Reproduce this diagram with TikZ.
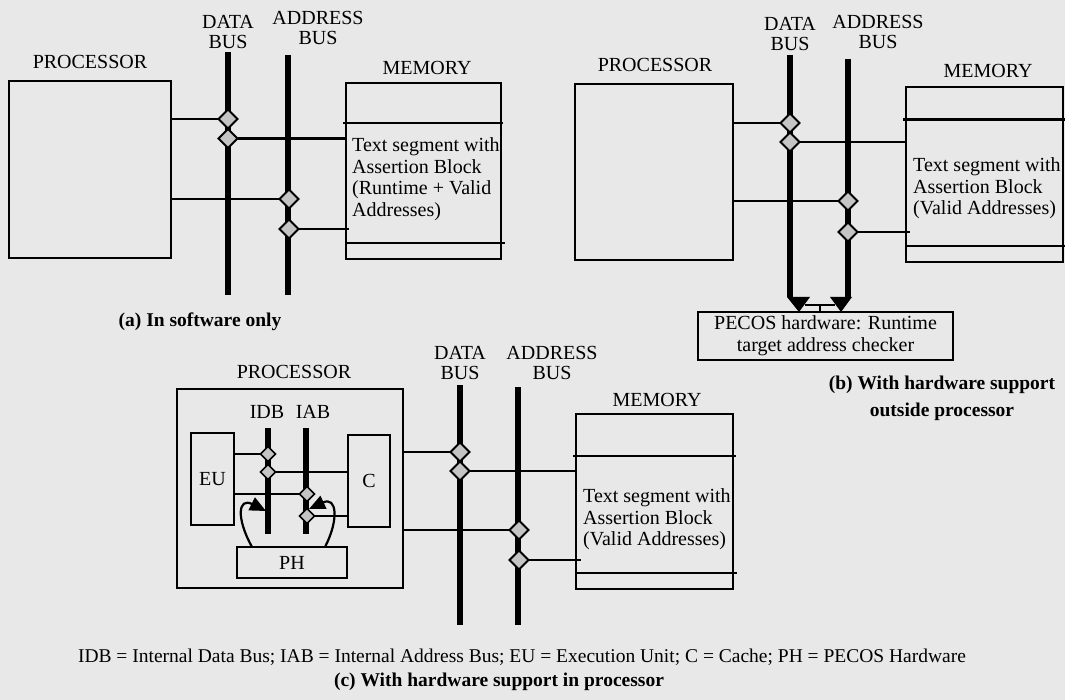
\documentclass[tikz,border=0pt]{standalone}
\usepackage{fontspec}
\setmainfont{Liberation Serif}
\usetikzlibrary{shapes.geometric,arrows.meta}
\pgfdeclarelayer{bg}
\pgfdeclarelayer{wires}
\pgfsetlayers{bg,wires,main}
\definecolor{paper}{RGB}{232,232,232}
\definecolor{diafill}{RGB}{196,196,196}
\begin{document}
\begin{tikzpicture}[x=1pt,y=-1pt,
  lbl/.style={font=\fontsize{20}{20}\selectfont, inner sep=0pt, align=center},
  txt/.style={font=\fontsize{20}{21.5}\selectfont, inner sep=0pt, align=left, anchor=west},
  capt/.style={font=\bfseries\fontsize{19.5}{27}\selectfont, inner sep=0pt, align=center},
  note/.style={font=\fontsize{19.5}{20}\selectfont, inner sep=0pt},
  box/.style={draw, line width=2.4pt, inner sep=0pt, outer sep=0pt},
  dia/.style={diamond, draw, line width=1.8pt, fill=diafill, minimum width=19pt, minimum height=19pt, inner sep=0pt, outer sep=0pt},
  sdia/.style={dia, minimum width=15pt, minimum height=15pt, line width=1.6pt},
  bus/.style={line width=5.5pt},
  wire/.style={line width=2.2pt},
  curv/.style={line width=2.2pt, -{Triangle[length=16pt,width=14pt]}}
]
\begin{pgfonlayer}{bg}
\fill[paper] (0,0) rectangle (1065,700);
\end{pgfonlayer}
\useasboundingbox (0,0) rectangle (1065,700);

% ================= (a) =================
\node[lbl] (aDataL) at (228,32) {DATA\\BUS};
\node[lbl] (aAddrL) at (318,28) {ADDRESS\\BUS};
\node[lbl] (aProcL) at (90,62) {PROCESSOR};
\node[lbl] (aMemL) at (427,68) {MEMORY};
\node[box, minimum width=162pt, minimum height=177pt] (aProc) at (90,169.5) {};
\node[box, minimum width=155pt, minimum height=176pt] (aMem) at (423.5,171) {};
\draw[wire] (343,123) -- (503,123);
\draw[wire] (345,243) -- (505,243);
\node[txt] (aText) at (352,179) {Text segment with\\Assertion Block\\(Runtime + Valid\\Addresses)};
\node[dia] (aD1) at (228,119) {};
\node[dia] (aD2) at (228,138.5) {};
\node[dia] (aD3) at (289,199) {};
\node[dia] (aD4) at (289,229) {};
\coordinate (aDBt) at (228,52);
\coordinate (aDBb) at (228,295);
\coordinate (aABt) at (288,55);
\coordinate (aABb) at (288,295);
\begin{pgfonlayer}{wires}
\draw[bus] (aDBt) -- (aDBb);
\draw[bus] (aABt) -- (aABb);
\draw[wire] (aProc.east |- aD1) -- (aD1);
\draw[wire] (aD2) -- (aD2 -| aMem.west);
\draw[wire] (aProc.east |- aD3) -- (aD3);
\draw[wire] (aD4) -- ([xshift=3pt]aD4 -| aMem.west);
\end{pgfonlayer}
\node[capt] (aCap) at (200,322) {(a) In software only};

% ================= (b) =================
\node[lbl] (bDataL) at (790,34) {DATA\\BUS};
\node[lbl] (bAddrL) at (878,32) {ADDRESS\\BUS};
\node[lbl] (bProcL) at (655,65) {PROCESSOR};
\node[lbl] (bMemL) at (988,71) {MEMORY};
\node[box, minimum width=158pt, minimum height=176pt] (bProc) at (654,172) {};
\node[box, minimum width=157pt, minimum height=175pt] (bMem) at (984.5,174.5) {};
\draw[wire] (903,119.5) -- (1065,119.5);
\draw[wire] (906,246) -- (1065,246);
\node[txt] (bText) at (913,188.5) {Text segment with\\Assertion Block\\(Valid Addresses)};
\node[dia] (bD1) at (790,123) {};
\node[dia] (bD2) at (790,142) {};
\node[dia] (bD3) at (848,201) {};
\node[dia] (bD4) at (848,232) {};
\node[box, minimum width=255pt, minimum height=48pt, align=center, font=\fontsize{20}{22}\selectfont] (bPecos) at (825.5,336) {PECOS hardware: Runtime\\target address checker};
\coordinate (bDBt) at (790,55);
\coordinate (bDBb) at (790,297);
\coordinate (bABt) at (848,59);
\coordinate (bABb) at (848,297);
\coordinate (bStub) at (820,305);
\begin{pgfonlayer}{wires}
\draw[bus] (bDBt) -- (bDBb);
\draw[bus] (bABt) -- (bABb);
\draw[wire] (bProc.east |- bD1) -- (bD1);
\draw[wire] (bD2) -- (bD2 -| bMem.west);
\draw[wire] (bProc.east |- bD3) -- (bD3);
\draw[wire] (bD4) -- ([xshift=4pt]bD4 -| bMem.west);
\end{pgfonlayer}
\fill (787,297) -- (810,297) -- (799,312) -- cycle;
\fill (830,297) -- (852,297) -- (841,312) -- cycle;
\draw[wire] (805,305) -- (835,305);
\draw[wire] (bStub) -- (bStub |- bPecos.north);
\node[capt] (bCap) at (942,398.5) {(b) With hardware support\\outside processor};

% ================= (c) =================
\node[lbl] (cProcL) at (294,372) {PROCESSOR};
\node[lbl] (cDataL) at (460,363) {DATA\\BUS};
\node[lbl] (cAddrL) at (552,362.5) {ADDRESS\\BUS};
\node[lbl] (cMemL) at (657,400) {MEMORY};
\node[lbl] (cIdbL) at (267,412) {IDB};
\node[lbl] (cIabL) at (313,412) {IAB};
\node[box, minimum width=226pt, minimum height=199pt] (cProc) at (290,488.5) {};
\node[box, minimum width=43pt, minimum height=92pt, font=\fontsize{20}{20}\selectfont] (cEU) at (212.5,479) {EU};
\node[box, minimum width=42pt, minimum height=92pt, font=\fontsize{20}{20}\selectfont] (cC) at (369,481) {C};
\node[box, minimum width=110pt, minimum height=31pt, font=\fontsize{20}{20}\selectfont] (cPH) at (292,562.5) {PH};
\node[box, minimum width=157pt, minimum height=175pt] (cMem) at (654.5,501.5) {};
\draw[wire] (573,456) -- (736,456);
\draw[wire] (576,573) -- (737,573);
\node[txt] (cText) at (583,519.5) {Text segment with\\Assertion Block\\(Valid Addresses)};
\node[sdia] (cI1) at (268,454) {};
\node[sdia] (cI2) at (268,472) {};
\node[sdia] (cI3) at (307,494) {};
\node[sdia] (cI4) at (307,516) {};
\node[dia] (cD1) at (460,452) {};
\node[dia] (cD2) at (460,471) {};
\node[dia] (cD3) at (519,530) {};
\node[dia] (cD4) at (519,560) {};
\coordinate (cIDBt) at (268,428);
\coordinate (cIDBb) at (268,534);
\coordinate (cIABt) at (306,428);
\coordinate (cIABb) at (306,534);
\coordinate (cDBt) at (460,385);
\coordinate (cDBb) at (460,625);
\coordinate (cABt) at (518,387);
\coordinate (cABb) at (518,625);
\begin{pgfonlayer}{wires}
\draw[bus] (cIDBt) -- (cIDBb);
\draw[bus] (cIABt) -- (cIABb);
\draw[bus] (cDBt) -- (cDBb);
\draw[bus] (cABt) -- (cABb);
\draw[wire] (cEU.east |- cI1) -- (cI1);
\draw[wire] (cI2) -- (cI2 -| cC.west);
\draw[wire] (cEU.east |- cI3) -- (cI3);
\draw[wire] (cI4) -- (cI4 -| cC.west);
\draw[wire] (cProc.east |- cD1) -- (cD1);
\draw[wire] (cD2) -- (cD2 -| cMem.west);
\draw[wire] (cProc.east |- cD3) -- (cD3);
\draw[wire] (cD4) -- ([xshift=5pt]cD4 -| cMem.west);
\end{pgfonlayer}
\draw[curv] ([xshift=-40pt]cPH.north) .. controls (236,518) and (238,497) .. (266,511);
\draw[curv] ([xshift=33pt]cPH.north) .. controls (339,520) and (337,496) .. (309,509);

\node[note] (cNote) at (522,657) {IDB = Internal Data Bus; IAB = Internal Address Bus; EU = Execution Unit; C = Cache; PH = PECOS Hardware};
\node[capt] (cCap) at (499,682) {(c) With hardware support in processor};
\end{tikzpicture}
\end{document}
